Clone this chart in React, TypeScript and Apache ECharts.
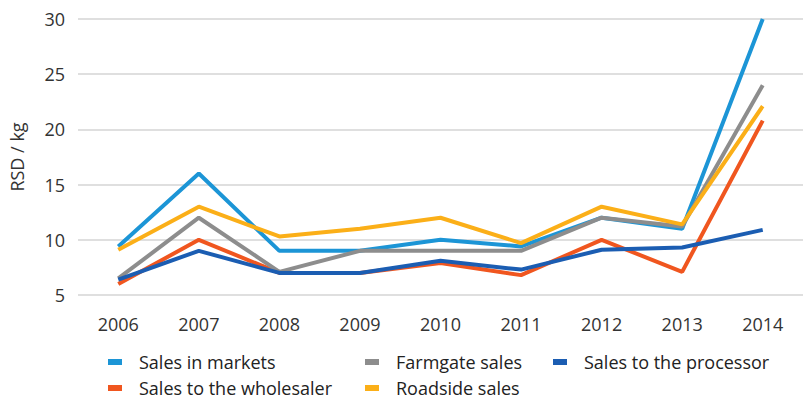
import React, { useEffect, useRef } from "react";
import * as echarts from "echarts";

const years = ["2006", "2007", "2008", "2009", "2010", "2011", "2012", "2013", "2014"];
const salesInMarkets = [9.4, 16, 9, 9, 10, 9.4, 12, 11, 30];
const salesToWholesaler = [6, 10, 7, 7, 7.9, 6.8, 10, 7.1, 20.8];
const farmgateSales = [6.5, 12, 7.1, 9, 9, 9, 12, 11.2, 24];
const roadsideSales = [9.1, 13, 10.3, 11, 12, 9.7, 13, 11.4, 22.1];
const salesToProcessor = [6.4, 9, 7, 7, 8.1, 7.3, 9.1, 9.3, 10.9];

const names = [
  "Sales in markets",
  "Sales to the wholesaler",
  "Farmgate sales",
  "Roadside sales",
  "Sales to the processor",
];
const colors = ["#1C95D6", "#F0561F", "#8D8D8D", "#FBAF18", "#1B5DB2"];
const dataSets = [salesInMarkets, salesToWholesaler, farmgateSales, roadsideSales, salesToProcessor];

const FONT = "Open Sans";

export default function App() {
  const ref = useRef<HTMLDivElement>(null);
  useEffect(() => {
    const chart = echarts.init(ref.current!, null, { renderer: "svg" });
    const legendBase = {
      orient: "vertical" as const,
      icon: "rect",
      itemWidth: 14,
      itemHeight: 6,
      itemGap: 6,
      height: 46,
      padding: 0,
      textStyle: {
        fontFamily: FONT,
        fontSize: 18,
        lineHeight: 20,
        color: "#222",
        padding: [0, 0, 0, 12],
      },
    };
    chart.setOption({
      animation: false,
      color: colors,
      grid: { left: 76, top: 19, height: 276, right: -10 },
      legend: [
        { ...legendBase, left: 108, top: 352, data: [names[0], names[1]] },
        { ...legendBase, left: 365, top: 352, data: [names[2], names[3]] },
        { ...legendBase, left: 553, top: 352, data: [names[4]] },
      ],
      xAxis: {
        type: "category",
        data: years,
        boundaryGap: true,
        axisLine: { show: false },
        axisTick: { show: false },
        axisLabel: { fontFamily: FONT, fontSize: 18, color: "#333", margin: 20 },
      },
      yAxis: {
        type: "value",
        min: 5,
        max: 30,
        interval: 5,
        name: "RSD / kg",
        nameLocation: "middle",
        nameGap: 52,
        nameTextStyle: { fontFamily: FONT, fontSize: 18, color: "#333" },
        axisLine: { show: false },
        axisTick: { show: false },
        axisLabel: { fontFamily: FONT, fontSize: 18, color: "#333", margin: 13 },
        splitLine: { lineStyle: { color: "#D4D4D4", width: 1.5 } },
      },
      series: dataSets.map((d, i) => ({
        name: names[i],
        type: "line",
        data: d,
        symbol: "none",
        lineStyle: { width: 4, color: colors[i] },
        itemStyle: { color: colors[i] },
      })),
    });
    return () => chart.dispose();
  }, []);
  return (
    <div
      ref={ref}
      style={{ position: "fixed", left: 0, top: 0, width: 803, height: 400, background: "#fff" }}
    />
  );
}
